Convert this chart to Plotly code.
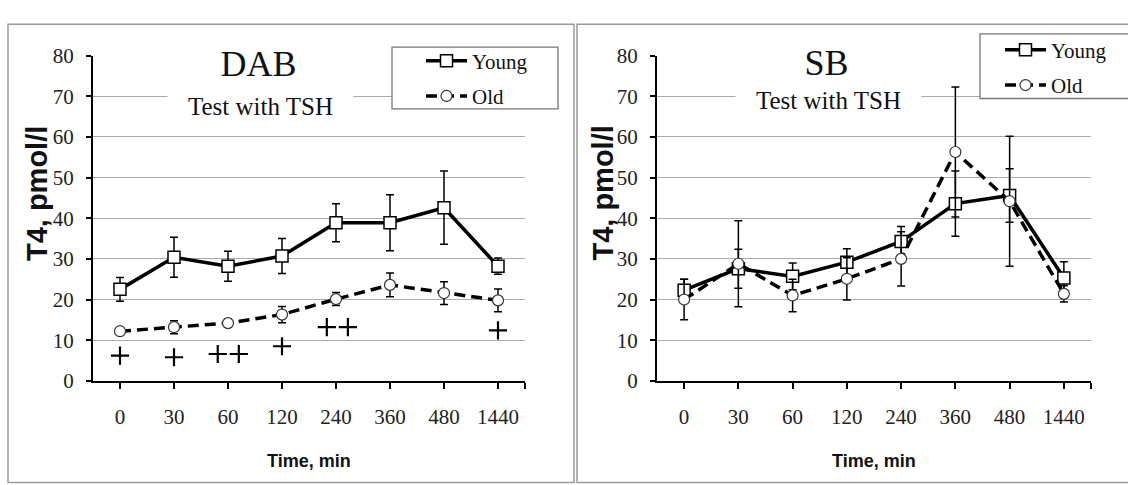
import plotly.graph_objects as go

# ---------------- data ----------------
times = ["0", "30", "60", "120", "240", "360", "480", "1440"]
dab_young = [22.5, 30.4, 28.2, 30.7, 38.9, 38.9, 42.6, 28.2]
dab_young_err = [2.9, 4.9, 3.7, 4.3, 4.7, 6.9, 9.0, 2.0]
dab_old = [12.2, 13.2, 14.2, 16.3, 20.1, 23.6, 21.6, 19.8]
dab_old_err = [0.5, 1.6, 1.0, 2.0, 1.6, 2.9, 2.8, 2.8]
sb_young = [22.3, 27.6, 25.7, 29.2, 34.3, 43.6, 45.6, 25.3]
sb_young_err = [2.7, 4.8, 3.3, 3.3, 3.7, 8.0, 6.6, 4.0]
sb_old = [20.0, 28.8, 21.0, 25.1, 30.0, 56.3, 44.2, 21.4]
sb_old_err = [5.0, 10.6, 4.0, 5.2, 6.7, 16.0, 16.0, 2.0]
# significance marks ("+") in DAB panel: x as category index, y value
plus_x = [0, 1, 1.81, 2.2, 3, 3.83, 4.22, 7]
plus_y = [6.2, 5.8, 6.6, 6.6, 8.5, 13.2, 13.2, 12.4]
y_ticks = [0, 10, 20, 30, 40, 50, 60, 70, 80]

W, H = 1128, 485
def px(x):
    return x / W
def py(y):
    return 1 - y / H

xpos = list(range(len(times)))
SERIF = "Liberation Serif"
SANS = "Liberation Sans"

fig = go.Figure()

def add_panel(xa, ya, young, young_err, old, old_err, legend):
    fig.add_trace(go.Scatter(
        x=xpos, y=young, name="Young", xaxis=xa, yaxis=ya, legend=legend,
        legendgroup="y" + legend, mode="lines+markers",
        line=dict(color="black", width=3.5),
        marker=dict(symbol="square", size=12, color="white",
                    line=dict(color="black", width=1.5)),
        error_y=dict(type="data", array=young_err, visible=True,
                     color="black", thickness=1.5, width=4),
    ))
    fig.add_trace(go.Scatter(
        x=xpos, y=old, name="Old", xaxis=xa, yaxis=ya, legend=legend,
        legendgroup="o" + legend, mode="lines+markers",
        line=dict(color="black", width=3.5, dash="11px,6px"),
        marker=dict(symbol="circle", size=11, color="white",
                    line=dict(color="#333", width=1.2)),
        error_y=dict(type="data", array=old_err, visible=True,
                     color="black", thickness=1.5, width=4),
    ))

add_panel("x", "y", dab_young, dab_young_err, dab_old, dab_old_err, "legend")
add_panel("x2", "y2", sb_young, sb_young_err, sb_old, sb_old_err, "legend2")

fig.add_trace(go.Scatter(
    x=plus_x, y=plus_y, mode="markers", xaxis="x", yaxis="y", showlegend=False,
    marker=dict(symbol="cross-thin", size=13, color="black",
                line=dict(color="black", width=2.2)),
))

xax = dict(
    range=[-0.5, 7.5], tickmode="array",
    tickvals=xpos + [7.5], ticktext=times + [""],
    showline=True, linecolor="black", linewidth=2,
    ticks="outside", ticklen=6, tickwidth=1.5, tickcolor="black",
    showgrid=False, zeroline=False, fixedrange=True,
    tickfont=dict(family=SERIF, size=21, color="#222"),
    ticklabelstandoff=10,
)
yax = dict(
    range=[0, 80], tickmode="array", tickvals=y_ticks,
    showline=True, linecolor="black", linewidth=2,
    ticks="outside", ticklen=5, tickwidth=1.5, tickcolor="black",
    showgrid=True, gridcolor="#ababab", gridwidth=1, zeroline=False,
    tickfont=dict(family=SERIF, size=21, color="#222"),
    ticklabelstandoff=8, fixedrange=True,
    domain=[py(388), py(46)],
)

leg_common = dict(
    font=dict(family=SERIF, size=21, color="#111"),
    bgcolor="rgba(0,0,0,0)", borderwidth=0, itemwidth=41,
    tracegroupgap=5, xanchor="left", yanchor="top",
    orientation="v",
)

fig.update_layout(
    width=W, height=H,
    margin=dict(l=0, r=0, t=0, b=0),
    paper_bgcolor="white", plot_bgcolor="white",
    xaxis=dict(xax, domain=[px(93), px(525)], anchor="y"),
    yaxis=dict(yax, anchor="x"),
    xaxis2=dict(xax, domain=[px(657), px(1091)], anchor="y2"),
    yaxis2=dict(yax, anchor="x2"),
    legend=dict(leg_common, x=px(421), y=py(30)),
    legend2=dict(leg_common, x=px(1000), y=py(18.5)),
    showlegend=True,
)

# panel frames and legend boxes
shapes = [
    dict(type="rect", xref="paper", yref="paper", x0=px(8), x1=px(574),
         y0=py(495), y1=py(13), line=dict(color="#9a9a9a", width=1.5),
         fillcolor="rgba(0,0,0,0)", layer="above"),
    dict(type="rect", xref="paper", yref="paper", x0=px(577), x1=px(1140),
         y0=py(495), y1=py(13), line=dict(color="#9a9a9a", width=1.5),
         fillcolor="rgba(0,0,0,0)", layer="above"),
    dict(type="rect", xref="paper", yref="paper", x0=px(392), x1=px(558),
         y0=py(102), y1=py(37), line=dict(color="#777", width=1.3),
         fillcolor="white", layer="above"),
    dict(type="rect", xref="paper", yref="paper", x0=px(980), x1=px(1140),
         y0=py(91), y1=py(23), line=dict(color="#777", width=1.3),
         fillcolor="white", layer="above"),
]
fig.update_layout(shapes=shapes)

ann = []
for cx, title, ty in [(258, "DAB", 55), (826, "SB", 54)]:
    ann.append(dict(xref="paper", yref="paper", x=px(cx), y=py(ty), text=title,
                    showarrow=False, xanchor="center", yanchor="middle",
                    font=dict(family=SERIF, size=36, color="#111"),
                    bgcolor="white", width=183))
for cx, ty in [(260, 99), (828, 93)]:
    ann.append(dict(xref="paper", yref="paper", x=px(cx), y=py(ty), text="Test with TSH",
                    showarrow=False, xanchor="center", yanchor="middle",
                    font=dict(family=SERIF, size=25, color="#111"),
                    bgcolor="white", width=183))
for cx in [309, 874]:
    ann.append(dict(xref="paper", yref="paper", x=px(cx), y=py(472), text="<b>Time, min</b>",
                    showarrow=False, xanchor="center", yanchor="middle",
                    font=dict(family=SANS, size=18, color="#111")))
for cx in [36.5, 603]:
    ann.append(dict(xref="paper", yref="paper", x=px(cx), y=py(191), text="<b>T4, pmol/l</b>",
                    showarrow=False, xanchor="center", yanchor="middle", textangle=-90,
                    font=dict(family=SANS, size=29, color="#111")))
fig.update_layout(annotations=ann)

fig.write_html("out.html", config={"displayModeBar": False},
               post_script="document.body.style.margin='0';document.body.style.overflow='hidden';")
